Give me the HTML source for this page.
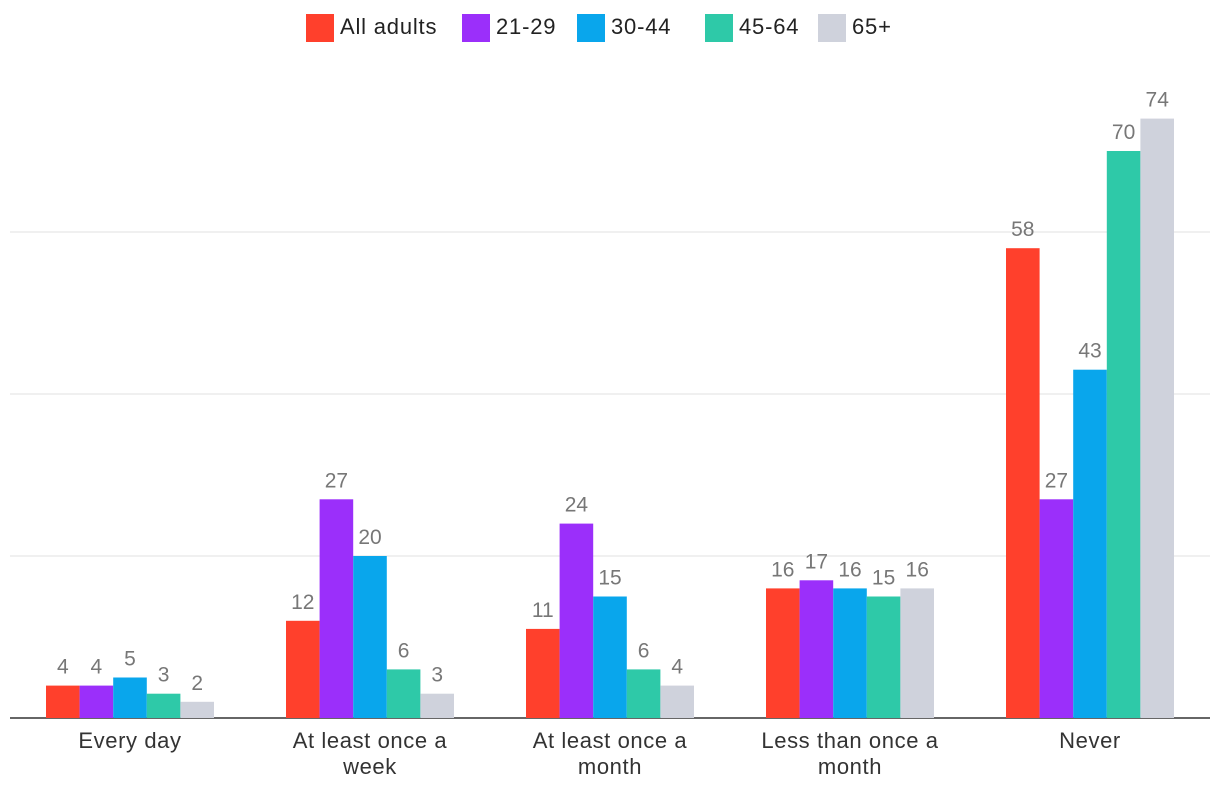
<!DOCTYPE html>
<html><head><meta charset="utf-8"><style>
body{margin:0;background:#fff;font-family:"Liberation Sans",sans-serif;}
svg{display:block}
</style></head><body>
<svg id="chart" width="1220" height="796" xmlns="http://www.w3.org/2000/svg"></svg>
<script>
const categories = [["Every day"],["At least once a","week"],["At least once a","month"],["Less than once a","month"],["Never"]];
const seriesNames = ["All adults","21-29","30-44","45-64","65+"];
const allAdults = [4,12,11,16,58];
const age2129 = [4,27,24,17,27];
const age3044 = [5,20,15,16,43];
const age4564 = [3,6,6,15,70];
const age65 = [2,3,4,16,74];
const gridTicks = [0,20,40,60];
const series = [allAdults,age2129,age3044,age4564,age65];
const colors = ["#ff402c","#9b2ffa","#09a6ec","#2ec9a8","#cfd2dc"];
const svg = document.getElementById('chart');
const NS = "http://www.w3.org/2000/svg";
const x0 = 10, x1 = 1210, yBase = 718, pxPerUnit = 8.1;
const band = (x1 - x0) / categories.length, pad = 36, bw = (band - 2*pad) / series.length;
const y = v => yBase - v * pxPerUnit;
function mk(tag, attrs, text){const e=document.createElementNS(NS,tag);for(const k in attrs)e.setAttribute(k,attrs[k]);if(text!==undefined)e.textContent=text;svg.appendChild(e);return e;}
gridTicks.forEach(t=>{
  const l = mk('line',{x1:x0,x2:x1,y1:y(t),y2:y(t),stroke:t===0?'#333':'#e2e2e2','stroke-width':t===0?1.5:1});
  
  
});
categories.forEach((c,ci)=>{
  const gx = x0 + ci*band + pad;
  series.forEach((s,si)=>{
    const v = s[ci];
    const r = mk('rect',{x:gx+si*bw,y:y(v),width:bw,height:v*pxPerUnit,fill:colors[si]});
    
    
    const t = mk('text',{x:gx+si*bw+bw/2,y:y(v)-12,'text-anchor':'middle','font-size':21,fill:'#777'},v);
    
    
  });
  c.forEach((line,li)=>{
    const t = mk('text',{x:x0+ci*band+band/2,y:748+li*26,'text-anchor':'middle','font-size':22,'letter-spacing':0.6,fill:'#333'},line);
    
    
  });
});
const legendX = [306,462,577,705,818];
seriesNames.forEach((n,i)=>{
  const r = mk('rect',{x:legendX[i],y:14,width:28,height:28,fill:colors[i]});
  
  
  const t = mk('text',{x:legendX[i]+34,y:34,'font-size':22,'letter-spacing':0.8,fill:'#222'},n);
  
  
});
</script>
</body></html>
